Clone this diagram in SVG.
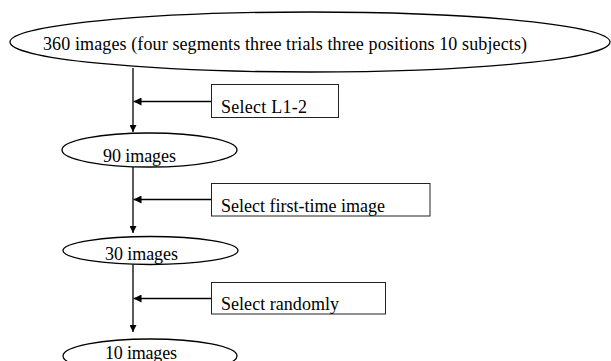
<svg xmlns="http://www.w3.org/2000/svg" width="611" height="361" viewBox="0 0 611 361">
  <defs>
    <marker id="arrow" viewBox="0 0 10 10" refX="10" refY="5" markerWidth="7" markerHeight="7" markerUnits="userSpaceOnUse" orient="auto">
      <path d="M0,0 L10,5 L0,10 Z" fill="#000"/>
    </marker>
    <marker id="arrowSide" viewBox="0 0 10 10" refX="10" refY="5" markerWidth="9" markerHeight="8" markerUnits="userSpaceOnUse" orient="auto">
      <path d="M0,0 L10,5 L0,10 Z" fill="#000"/>
    </marker>
  </defs>
  <style>
    .oval { fill: #fff; stroke: #000; stroke-width: 1.3; }
    .box { fill: #fff; stroke: #222; stroke-width: 1; }
    .lbl { font-family: "Liberation Serif", "Times New Roman", serif; font-size: 18px; fill: #000; }
    .flow { stroke: #000; stroke-width: 1.3; fill: none; }
  </style>
  <rect width="611" height="361" fill="#fff"/>

  <g id="connectors">
    <line class="flow" x1="133" y1="68" x2="133" y2="132" marker-end="url(#arrow)"/>
    <line class="flow" x1="211" y1="101.5" x2="133.5" y2="101.5" marker-end="url(#arrowSide)"/>
    <line class="flow" x1="133" y1="167" x2="133" y2="233" marker-end="url(#arrow)"/>
    <line class="flow" x1="211" y1="199.5" x2="133.5" y2="199.5" marker-end="url(#arrowSide)"/>
    <line class="flow" x1="133" y1="264" x2="133" y2="332" marker-end="url(#arrow)"/>
    <line class="flow" x1="211" y1="298.5" x2="133.5" y2="298.5" marker-end="url(#arrowSide)"/>
  </g>

  <g id="n360">
    <ellipse class="oval" cx="310" cy="42" rx="300" ry="30"/>
    <text class="lbl" x="43" y="49.5" textLength="484" lengthAdjust="spacing">360 images (four segments three trials three positions 10 subjects)</text>
  </g>

  <g id="selectL12">
    <rect class="box" x="211.5" y="84.5" width="127" height="33"/>
    <text class="lbl" x="221" y="112.5" textLength="86" lengthAdjust="spacing">Select L1-2</text>
  </g>

  <g id="n90">
    <ellipse class="oval" cx="149.5" cy="150" rx="87.5" ry="17"/>
    <text class="lbl" x="103" y="161.5" textLength="73" lengthAdjust="spacing">90 images</text>
  </g>

  <g id="selectFirst">
    <rect class="box" x="211.5" y="183.5" width="218.5" height="32.5"/>
    <text class="lbl" x="221" y="212" textLength="164" lengthAdjust="spacing">Select first-time image</text>
  </g>

  <g id="n30">
    <ellipse class="oval" cx="150.5" cy="250.5" rx="87.5" ry="14"/>
    <text class="lbl" x="105" y="259.5" textLength="73" lengthAdjust="spacing">30 images</text>
  </g>

  <g id="selectRandom">
    <rect class="box" x="211.5" y="282.5" width="174" height="31.5"/>
    <text class="lbl" x="221" y="309.5" textLength="118" lengthAdjust="spacing">Select randomly</text>
  </g>

  <g id="n10">
    <ellipse class="oval" cx="150" cy="356" rx="87" ry="17"/>
    <text class="lbl" x="105" y="358.5" textLength="72" lengthAdjust="spacing">10 images</text>
  </g>
</svg>
